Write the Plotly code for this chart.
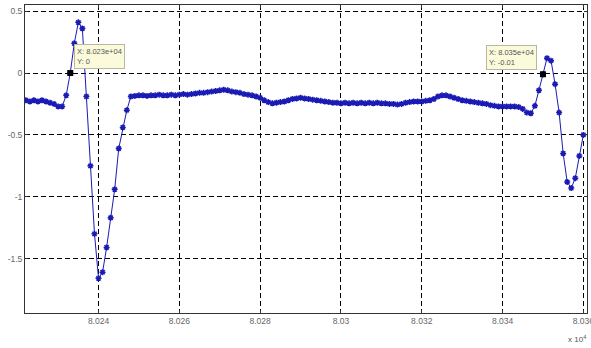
import plotly.graph_objects as go

# ---- data -------------------------------------------------------------
x_start = 80222
y_values = [
    -0.22, -0.23, -0.22, -0.23, -0.22, -0.23, -0.24, -0.25, -0.27, -0.27,   # 80222-80231
    -0.18, 0.00, 0.24, 0.41, 0.36, -0.19, -0.75, -1.30, -1.66, -1.61,       # 80232-80241
    -1.41, -1.17, -0.94, -0.61, -0.44, -0.30, -0.19, -0.185, -0.18, -0.18,  # 80242-80251
    -0.185, -0.18, -0.18, -0.175, -0.18, -0.18, -0.175, -0.18, -0.175, -0.17,  # 80252-80261
    -0.175, -0.17, -0.165, -0.16, -0.16, -0.155, -0.15, -0.145, -0.14, -0.135,  # 80262-80271
    -0.14, -0.15, -0.155, -0.16, -0.17, -0.175, -0.18, -0.19, -0.20, -0.22,   # 80272-80281
    -0.235, -0.245, -0.24, -0.235, -0.23, -0.22, -0.21, -0.205, -0.20, -0.205,  # 80282-80291
    -0.21, -0.215, -0.22, -0.225, -0.23, -0.235, -0.24, -0.24, -0.245, -0.24,   # 80292-80301
    -0.245, -0.24, -0.245, -0.24, -0.245, -0.24, -0.245, -0.24, -0.245, -0.245,  # 80302-80311
    -0.25, -0.25, -0.255, -0.25, -0.24, -0.235, -0.23, -0.23, -0.23, -0.225,    # 80312-80321
    -0.22, -0.21, -0.19, -0.18, -0.18, -0.19, -0.20, -0.21, -0.22, -0.225,      # 80322-80331
    -0.23, -0.235, -0.24, -0.245, -0.25, -0.26, -0.265, -0.27, -0.27, -0.27,    # 80332-80341
    -0.27, -0.27, -0.275, -0.29, -0.32, -0.325, -0.265, -0.14, -0.01, 0.12,     # 80342-80351
    0.10, -0.09, -0.32, -0.65, -0.88, -0.93, -0.85, -0.67, -0.50,              # 80352-80360
]
x_values = list(range(x_start, x_start + len(y_values)))

datatip_x = [80233, 80350]

x_tickvals = [80240, 80260, 80280, 80300, 80320, 80340, 80360]
x_ticktext = ["8.024", "8.026", "8.028", "8.03", "8.032", "8.034", "8.036"]
y_tickvals = [0.5, 0, -0.5, -1, -1.5]
y_ticktext = ["0.5", "0", "-0.5", "-1", "-1.5"]

# ---- figure -----------------------------------------------------------
blue = "#1a1ab4"
fig = go.Figure()
fig.add_trace(go.Scatter(
    x=x_values, y=y_values, mode="lines+markers",
    line=dict(color=blue, width=1),
    marker=dict(symbol="asterisk-open", size=5, color=blue,
                line=dict(color=blue, width=1.5)),
    hoverinfo="skip",
))

tip_y = [y_values[x_values.index(v)] for v in datatip_x]
fig.add_trace(go.Scatter(
    x=datatip_x, y=tip_y, mode="markers",
    marker=dict(symbol="square", size=6, color="black"),
    hoverinfo="skip",
))

for i, (tx, ty) in enumerate(zip(datatip_x, tip_y)):
    left = i == 0
    fig.add_annotation(
        x=tx, y=ty, xref="x", yref="y", showarrow=False,
        text=f"X: {tx:.3e}<br>Y: {ty:.4g}",
        align="left",
        xanchor="left" if left else "right",
        yanchor="bottom",
        xshift=4 if left else -6, yshift=4,
        bgcolor="#fbfbdc", bordercolor="#b8b8a0", borderwidth=1, borderpad=2,
        font=dict(family="Liberation Sans, Arial, sans-serif", size=7.5, color="#555555"),
    )

fig.add_annotation(
    x=1, y=-0.084, xref="paper", yref="paper", showarrow=False,
    text="x 10<sup>4</sup>", xanchor="right", yanchor="middle", xshift=1,
    font=dict(family="Liberation Sans, Arial, sans-serif", size=8, color="#555555"),
)

axis_common = dict(
    showgrid=True, gridcolor="black", griddash="5px,3px", gridwidth=1,
    showline=True, linecolor="#333333", linewidth=1, mirror="ticks",
    ticks="inside", ticklen=3, tickcolor="#333333",
    tickfont=dict(family="Liberation Sans, Arial, sans-serif", size=8.5, color="#666666"),
    zeroline=False, automargin=False, ticklabeloverflow="allow",
)

fig.update_layout(
    width=591, height=348,
    margin=dict(l=25, r=4, t=5, b=35, autoexpand=False),
    paper_bgcolor="white", plot_bgcolor="white",
    showlegend=False,
    xaxis=dict(range=[80221.8, 80360.9], tickmode="array",
               tickvals=x_tickvals, ticktext=x_ticktext, **axis_common),
    yaxis=dict(range=[-1.94, 0.55], tickmode="array",
               tickvals=y_tickvals, ticktext=y_ticktext, **axis_common),
)

fig.write_html(
    "out.html",
    config={"displayModeBar": False},
    post_script="document.body.style.margin='0';document.body.style.overflow='hidden';",
)
